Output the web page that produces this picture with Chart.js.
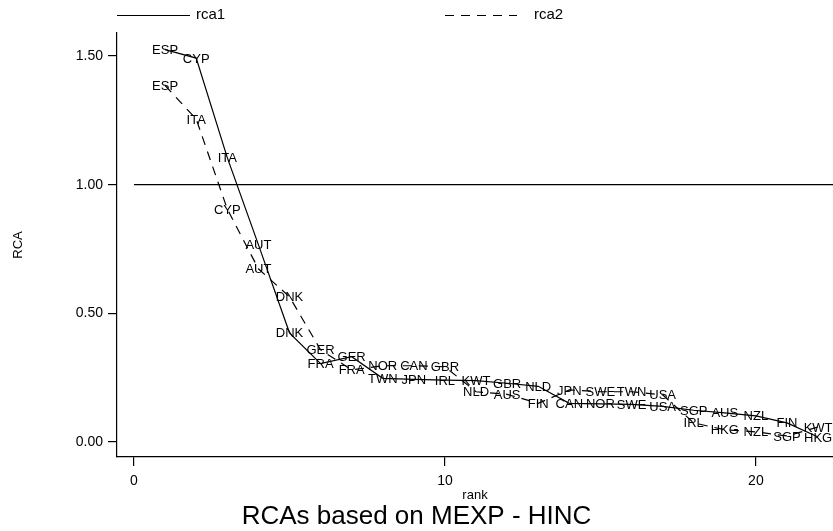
<!DOCTYPE html>
<html>
<head>
<meta charset="utf-8">
<script src="https://cdn.jsdelivr.net/npm/chart.js@4.4.1/dist/chart.umd.min.js"></script>
<style>
  html, body { margin: 0; padding: 0; background: #fff; }
  #wrap { width: 833px; height: 531px; position: relative; }
</style>
</head>
<body>
<div id="wrap"><canvas id="c" width="833" height="531"></canvas></div>
<script>
// ---- data ----
const ranks = [1,2,3,4,5,6,7,8,9,10,11,12,13,14,15,16,17,18,19,20,21,22];
const rca1Countries = ["ESP","CYP","ITA","AUT","DNK","FRA","GER","TWN","JPN","IRL","KWT","GBR","NLD","CAN","NOR","SWE","USA","SGP","AUS","NZL","FIN","HKG"];
const rca1Values = [1.525,1.492,1.105,0.767,0.424,0.304,0.331,0.247,0.243,0.240,0.238,0.228,0.216,0.150,0.148,0.146,0.138,0.123,0.113,0.101,0.074,0.019];
const rca2Countries = ["ESP","ITA","CYP","AUT","DNK","GER","FRA","NOR","CAN","GBR","NLD","AUS","FIN","JPN","SWE","TWN","USA","IRL","HKG","NZL","SGP","KWT"];
const rca2Values = [1.385,1.255,0.905,0.673,0.564,0.358,0.280,0.296,0.296,0.292,0.195,0.185,0.150,0.202,0.195,0.195,0.183,0.074,0.047,0.039,0.023,0.058];
const refLineX = [0, 23];
const refLineY = [1, 1];
const yTickValues = [0, 0.5, 1, 1.5];
const xTickValues = [0, 10, 20];
const seriesNames = ["rca1", "rca2"];
const titleText = "RCAs based on MEXP - HINC";
const xTitle = "rank";
const yTitle = "RCA";

const FONT = "'Liberation Sans', Arial, Helvetica, sans-serif";

const toPts = (xs, ys) => xs.map((x, i) => ({x: x, y: ys[i]}));

const pointLabelPlugin = {
  id: 'pointLabels',
  afterDatasetsDraw(chart) {
    const ctx = chart.ctx;
    ctx.save();
    ctx.font = "13px " + FONT;
    ctx.fillStyle = "#000";
    ctx.textAlign = "center";
    ctx.textBaseline = "middle";
    chart.data.datasets.forEach((ds, i) => {
      if (!ds.pointNames) return;
      const meta = chart.getDatasetMeta(i);
      meta.data.forEach((pt, j) => {
        ctx.fillText(ds.pointNames[j], pt.x, pt.y + 1);
      });
    });
    ctx.restore();
  }
};

const legendPlugin = {
  id: 'topLegend',
  afterDraw(chart) {
    const ctx = chart.ctx;
    const items = chart.data.datasets.filter(d => d.inLegend);
    const slots = [117, 445];
    const lineLens = [73, 72];
    ctx.save();
    ctx.font = "15px " + FONT;
    ctx.fillStyle = "#000";
    ctx.textBaseline = "middle";
    items.forEach((ds, i) => {
      const x0 = slots[i];
      ctx.strokeStyle = "#000";
      ctx.lineWidth = ds.borderWidth;
      ctx.setLineDash(ds.borderDash || []);
      ctx.beginPath();
      ctx.moveTo(x0, 15.5);
      ctx.lineTo(x0 + lineLens[i], 15.5);
      ctx.stroke();
      ctx.setLineDash([]);
      ctx.fillText(ds.label, x0 + lineLens[i] + (i === 0 ? 6 : 17), 15);
    });
    ctx.restore();
  }
};

new Chart(document.getElementById('c'), {
  type: 'line',
  data: {
    datasets: [
      {
        label: seriesNames[0],
        inLegend: true,
        data: toPts(ranks, rca1Values),
        pointNames: rca1Countries,
        borderColor: "#000",
        borderWidth: 1.2,
        pointRadius: 0,
        tension: 0,
        fill: false
      },
      {
        label: seriesNames[1],
        inLegend: true,
        data: toPts(ranks, rca2Values),
        pointNames: rca2Countries,
        borderColor: "#000",
        borderWidth: 1.2,
        borderDash: [9, 7],
        pointRadius: 0,
        tension: 0,
        fill: false
      },
      {
        label: "ref",
        inLegend: false,
        data: toPts(refLineX, refLineY),
        borderColor: "#000",
        borderWidth: 1.2,
        pointRadius: 0,
        tension: 0,
        fill: false
      }
    ]
  },
  options: {
    responsive: false,
    animation: false,
    devicePixelRatio: 1,
    layout: { padding: { left: 0, right: 0, top: 33, bottom: 0 } },
    plugins: {
      legend: { display: false },
      tooltip: { enabled: false },
      title: {
        display: true,
        text: titleText,
        position: 'bottom',
        color: "#000",
        font: { family: FONT, size: 26, weight: 'normal', lineHeight: 1.08 },
        padding: { top: 0, bottom: 0 }
      }
    },
    scales: {
      x: {
        type: 'linear',
        min: -0.547,
        max: 22.48,
        afterFit(scale) { scale.height = 46; },
        afterBuildTicks(scale) { scale.ticks = xTickValues.map(v => ({value: v})); },
        grid: { display: true, drawOnChartArea: false, drawTicks: true, tickLength: 9, color: "#000", lineWidth: 1.2 },
        border: { display: true, color: "#000", width: 1.2 },
        ticks: { color: "#000", font: { family: FONT, size: 14 }, padding: 7, maxRotation: 0, callback: v => String(v) },
        title: { display: true, text: xTitle, color: "#000", font: { family: FONT, size: 13, lineHeight: 1.0 }, padding: { top: 0, bottom: 1 } }
      },
      y: {
        type: 'linear',
        min: -0.0584,
        max: 1.5895,
        afterFit(scale) { scale.width = 117; },
        afterBuildTicks(scale) { scale.ticks = yTickValues.map(v => ({value: v})); },
        grid: { display: true, drawOnChartArea: false, drawTicks: true, tickLength: 9, color: "#000", lineWidth: 1.2 },
        border: { display: true, color: "#000", width: 1.2 },
        ticks: { color: "#000", font: { family: FONT, size: 14 }, padding: 5, callback: v => Number(v).toFixed(2) },
        title: { display: true, text: yTitle, color: "#000", font: { family: FONT, size: 13 }, padding: { top: 11, bottom: 0 } }
      }
    }
  },
  plugins: [pointLabelPlugin, legendPlugin]
});
</script>
</body>
</html>
